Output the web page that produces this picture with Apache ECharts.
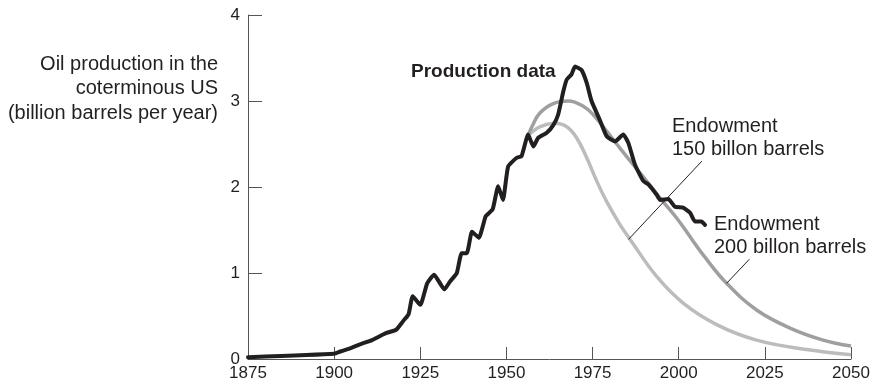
<!DOCTYPE html>
<html>
<head>
<meta charset="utf-8">
<script src="https://cdn.jsdelivr.net/npm/echarts@6/dist/echarts.min.js"></script>
<style>
  html, body { margin: 0; padding: 0; background: #fff; }
  #chart { width: 874px; height: 384px; }
</style>
</head>
<body>
<div id="chart"></div>
<script>
// production data (year, billion barrels per year)
var prodYears = [1875, 1900, 1902, 1905, 1907.5, 1911, 1915, 1918, 1920, 1921.6, 1922.8, 1925, 1927, 1929, 1932, 1933.6,
  1935.6, 1937, 1938.5, 1940, 1942, 1944, 1946, 1947.6, 1949, 1950.5, 1953, 1954.4, 1956.3, 1957.8, 1959.2,
  1961.7, 1963.6, 1965, 1966.5, 1967.5, 1968.9, 1969.9, 1971.8, 1973.3, 1974.7, 1977.1, 1979.1, 1981.5,
  1983.9, 1985.4, 1987.3, 1989.7, 1991.2, 1993.6, 1994.6, 1997, 1998.9, 2001.3, 2003.3, 2004.7, 2006.6, 2007.6];
var prodValues = [0.02, 0.06, 0.09, 0.13, 0.17, 0.22, 0.30, 0.34, 0.44, 0.52, 0.73, 0.63, 0.88, 0.98, 0.81, 0.90,
  1.00, 1.23, 1.23, 1.48, 1.41, 1.66, 1.74, 2.01, 1.85, 2.24, 2.34, 2.36, 2.61, 2.47, 2.57,
  2.63, 2.72, 2.84, 3.11, 3.25, 3.31, 3.40, 3.36, 3.21, 3.00, 2.78, 2.59, 2.53,
  2.61, 2.51, 2.26, 2.07, 2.03, 1.91, 1.85, 1.86, 1.77, 1.76, 1.70, 1.60, 1.60, 1.56];

// endowment 200 billion barrels curve
var e200Years = [1956.3, 1957.5, 1959.7, 1963.6, 1968, 1972.3, 1975.2, 1979.1, 1983, 1986.8, 1990.7, 1994.6, 1999.4,
  2004.2, 2007.1, 2013.9, 2022.6, 2032.3, 2041.9, 2050];
var e200Values = [2.60, 2.71, 2.86, 2.97, 3.00, 2.94, 2.84, 2.65, 2.45, 2.26, 2.07, 1.87, 1.64,
  1.37, 1.21, 0.88, 0.57, 0.36, 0.22, 0.15];

// endowment 150 billion barrels curve
var e150Years = [1956.3, 1959.7, 1964.1, 1967.5, 1970.4, 1973.3, 1976.2, 1979.1, 1983, 1985.9, 1993.6,
  2001.3, 2011, 2022.6, 2037.1, 2050];
var e150Values = [2.60, 2.70, 2.74, 2.70, 2.57, 2.34, 2.07, 1.83, 1.56, 1.39, 0.96,
  0.65, 0.40, 0.22, 0.11, 0.05];

var xTicks = [1875, 1900, 1925, 1950, 1975, 2000, 2025, 2050];
var yTicks = [0, 1, 2, 3, 4];

// leader lines from the labels to the curves
var callout150 = [[1985.4, 1.39], [2006.7, 2.30]];
var callout200 = [[2013.9, 0.88], [2020.5, 1.16]];

function zip(xs, ys) {
  var out = [];
  for (var i = 0; i < xs.length; i++) out.push([xs[i], ys[i]]);
  return out;
}

var font = 'Liberation Sans';
var ink = '#231f20';

var chart = echarts.init(document.getElementById('chart'));
chart.setOption({
  animation: false,
  textStyle: { fontFamily: font },
  grid: { left: 248, right: 23, top: 15, bottom: 25 },
  xAxis: {
    type: 'value',
    min: xTicks[0],
    max: xTicks[xTicks.length - 1],
    interval: 25,
    splitLine: { show: false },
    axisLine: { lineStyle: { color: '#555', width: 1 } },
    axisTick: { inside: true, length: 12, lineStyle: { color: '#555' } },
    axisLabel: { color: ink, fontSize: 17, margin: 6, fontFamily: font, formatter: function (v) { return String(v); } }
  },
  yAxis: {
    type: 'value',
    min: yTicks[0],
    max: yTicks[yTicks.length - 1],
    interval: 1,
    splitLine: { show: false },
    axisLine: { show: true, lineStyle: { color: '#555', width: 1 } },
    axisTick: { show: true, inside: true, length: 14, lineStyle: { color: '#555' } },
    axisLabel: { color: ink, fontSize: 17, margin: 8, fontFamily: font }
  },
  series: [
    {
      name: 'Endowment 150',
      type: 'line',
      data: zip(e150Years, e150Values),
      smooth: 0.4,
      showSymbol: false,
      lineStyle: { color: '#bbbcbe', width: 3.5 },
      z: 2,
      markLine: {
        silent: true,
        symbol: 'none',
        lineStyle: { color: ink, width: 1, type: 'solid' },
        label: { show: false },
        data: [[{ coord: callout150[0] }, { coord: callout150[1] }]]
      }
    },
    {
      name: 'Endowment 200',
      type: 'line',
      data: zip(e200Years, e200Values),
      smooth: 0.4,
      showSymbol: false,
      lineStyle: { color: '#9e9fa1', width: 3.5 },
      z: 3,
      markLine: {
        silent: true,
        symbol: 'none',
        lineStyle: { color: ink, width: 1, type: 'solid' },
        label: { show: false },
        data: [[{ coord: callout200[0] }, { coord: callout200[1] }]]
      }
    },
    {
      name: 'Production data',
      type: 'line',
      data: zip(prodYears, prodValues),
      smooth: 0.15,
      showSymbol: false,
      lineStyle: { color: ink, width: 4, join: 'round', cap: 'round' },
      z: 4
    }
  ],
  graphic: [
    {
      type: 'text', right: 874 - 218, top: 52,
      style: {
        text: 'Oil production in the\ncoterminous US\n(billion barrels per year)',
        font: '20px "' + font + '"', fill: ink, textAlign: 'right', lineHeight: 24.5
      }
    },
    {
      type: 'text', left: 411, top: 62,
      style: { text: 'Production data', font: 'bold 19px "' + font + '"', fill: ink }
    },
    {
      type: 'text', left: 672, top: 115,
      style: { text: 'Endowment\n150 billon barrels', font: '20px "' + font + '"', fill: ink, lineHeight: 23 }
    },
    {
      type: 'text', left: 714, top: 213,
      style: { text: 'Endowment\n200 billon barrels', font: '20px "' + font + '"', fill: ink, lineHeight: 23 }
    }
  ]
});
</script>
</body>
</html>
